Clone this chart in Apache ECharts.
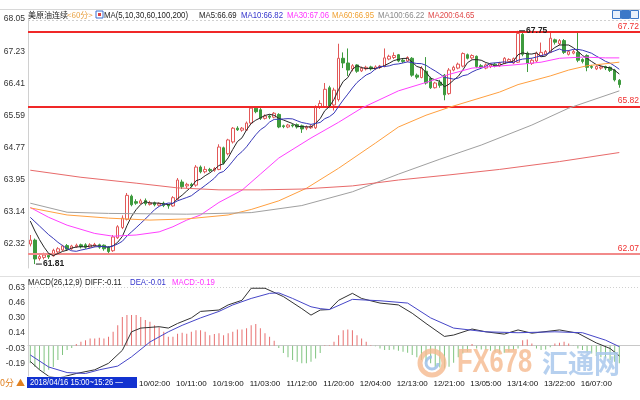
<!DOCTYPE html>
<html><head><meta charset="utf-8">
<script src="https://cdn.jsdelivr.net/npm/echarts@6/dist/echarts.min.js"></script>
<style>html,body{margin:0;padding:0;background:#fff;}#c{width:640px;height:400px;}</style>
</head><body><div id="c"></div>
<script>
// ---------- data ----------
const opens = [62.32,62.42,61.95,61.98,62.03,62.02,62.12,62.17,62.28,62.20,
 62.25,62.30,62.30,62.24,62.27,62.30,62.29,62.24,62.15,62.48,
 62.74,62.95,63.54,63.40,63.36,63.43,63.33,63.37,63.31,63.36,
 63.32,63.29,63.46,63.90,63.80,63.84,63.82,64.28,64.16,64.22,
 64.20,64.22,64.77,64.62,64.92,65.27,65.22,65.22,65.40,65.78,
 65.74,65.52,65.58,65.55,65.62,65.33,65.30,65.35,65.36,65.33,
 65.27,65.28,65.28,65.80,65.82,66.30,65.86,66.00,67.05,66.93,
 66.78,66.88,66.73,66.78,66.83,66.78,66.82,66.84,67.03,67.07,
 67.14,67.00,66.98,67.05,66.62,66.56,66.72,66.54,66.30,66.44,
 66.62,66.15,66.75,66.80,66.85,67.14,67.06,67.10,66.86,66.80,
 66.84,66.90,66.86,66.92,66.97,66.93,66.95,67.66,67.18,66.92,
 66.98,67.12,67.15,67.20,67.52,67.42,67.50,67.15,67.18,67.20,
 67.02,67.12,66.84,66.78,66.80,66.84,66.82,66.75,66.49];
const closes = [62.42,61.94,62.00,62.04,61.99,62.16,62.20,62.27,62.19,62.27,
 62.29,62.25,62.24,62.30,62.31,62.24,62.20,62.13,62.50,62.76,
 62.98,63.56,63.32,63.36,63.42,63.35,63.37,63.32,63.35,63.30,
 63.29,63.50,63.95,63.78,63.84,63.80,64.28,64.16,64.22,64.19,
 64.24,64.79,64.38,64.97,65.27,65.23,65.27,65.40,65.78,65.69,
 65.52,65.58,65.55,65.65,65.30,65.31,65.35,65.33,65.30,65.25,
 65.30,65.32,65.80,65.90,66.26,65.82,66.24,67.05,66.93,66.75,
 66.86,66.72,66.80,66.82,66.78,66.83,66.85,67.06,67.10,67.12,
 66.98,66.97,67.07,66.62,66.57,66.80,66.42,66.30,66.42,66.36,
 66.12,66.75,66.82,66.90,67.17,67.05,67.12,66.84,66.82,66.88,
 66.88,66.86,66.92,67.05,67.02,67.04,67.68,67.15,66.92,67.00,
 67.18,67.20,67.22,67.56,67.46,67.50,67.20,67.22,67.22,67.00,
 66.97,66.82,66.82,66.84,66.83,66.80,66.74,66.50,66.38];
const lows = [62.26,61.81,61.90,61.93,61.94,62.00,62.08,62.14,62.15,62.17,
 62.22,62.21,62.20,62.22,62.24,62.20,62.15,62.08,62.12,62.45,
 62.70,62.92,63.28,63.32,63.33,63.30,63.30,63.28,63.28,63.26,
 63.22,63.27,63.44,63.72,63.74,63.76,63.78,64.12,64.12,64.15,
 64.16,64.20,64.34,64.58,64.88,65.20,65.18,65.20,65.37,65.65,
 65.48,65.49,65.50,65.52,65.27,65.27,65.27,65.29,65.26,65.15,
 65.22,65.25,65.25,65.76,65.80,65.78,65.72,65.95,66.80,66.60,
 66.72,66.68,66.70,66.74,66.74,66.75,66.78,66.82,67.00,67.03,
 66.95,66.93,66.95,66.58,66.52,66.54,66.38,66.27,66.28,66.30,
 65.98,66.12,66.72,66.77,66.82,67.02,67.02,66.80,66.78,66.77,
 66.80,66.82,66.83,66.90,66.93,66.90,66.93,67.10,66.70,66.88,
 66.95,67.08,67.12,67.18,67.40,67.38,67.16,67.12,67.15,66.95,
 66.92,66.72,66.78,66.75,66.76,66.75,66.70,66.46,66.30];
const highs = [62.55,62.46,62.06,62.10,62.08,62.20,62.24,62.30,62.32,62.30,
 62.33,62.33,62.34,62.34,62.35,62.33,62.31,62.27,62.55,62.80,
 63.05,63.62,63.58,63.46,63.47,63.48,63.42,63.40,63.38,63.40,
 63.34,63.54,64.00,63.96,63.88,63.88,64.33,64.32,64.30,64.26,
 64.28,64.86,64.80,65.00,65.30,65.32,65.30,65.44,65.82,65.83,
 65.78,65.62,65.62,65.68,65.65,65.36,65.38,65.38,65.39,65.36,
 65.34,65.36,65.85,65.98,66.42,66.35,66.30,67.42,67.20,67.30,
 66.90,66.90,66.84,66.86,66.86,66.87,66.88,67.30,67.14,67.20,
 67.16,67.04,67.10,67.08,66.66,66.85,67.08,66.58,66.45,66.50,
 66.65,66.80,66.86,66.94,67.20,67.17,67.15,67.12,66.90,66.92,
 66.92,66.93,66.96,67.08,67.05,67.07,67.75,67.70,67.22,67.05,
 67.22,67.45,67.26,67.72,67.55,67.54,67.54,67.26,67.26,67.72,
 67.05,67.15,66.88,66.87,66.86,66.86,66.84,66.78,66.52];
// closes before the first visible bar (needed for MA5 / MA10 warm-up)
const priorCloses = [63.05,63.10,63.15,63.10,63.08,63.20,63.10,63.00,62.80];

// longer moving averages as [barIndex, value]
const ma30Pts = [[0,63.25],[4,63.0],[8,62.8],[14,62.59],[18,62.52],[23,62.55],[28,62.63],[31,62.76],[34,62.93],[37,63.06],[41,63.38],[46,63.69],[50,64.1],[54,64.51],[61,65.02],[67,65.42],[72,65.78],[80,66.22],[87,66.47],[91,66.64],[96,66.8],[105,66.88],[111,66.95],[115,67.05],[120,67.08],[125,67.06],[128,67.06]];
const ma60Pts = [[0,63.24],[8,63.06],[17,62.98],[26,62.93],[34,62.96],[43,63.06],[48,63.2],[54,63.42],[60,63.74],[67,64.25],[75,64.89],[80,65.3],[86,65.6],[91,65.8],[102,66.19],[106,66.38],[113,66.6],[117,66.75],[121,66.86],[128,66.95]];
const ma100Pts = [[0,63.36],[8,63.13],[17,63.1],[34,63.08],[48,63.12],[59,63.3],[70,63.65],[80,64.1],[89,64.48],[98,64.84],[109,65.35],[117,65.78],[128,66.22]];
const ma200Pts = [[0,64.2],[11,64.02],[23,63.87],[32,63.75],[41,63.7],[50,63.7],[59,63.72],[70,63.8],[80,63.95],[91,64.08],[102,64.22],[115,64.42],[128,64.65]];

// MACD panel
const macdHist = [-0.19,-0.23,-0.26,-0.28,-0.26,-0.23,-0.155,-0.10,-0.047,-0.026,
 0.017,0.042,0.06,0.079,0.079,0.085,0.079,0.096,0.15,0.22,
 0.31,0.33,0.33,0.33,0.31,0.276,0.258,0.22,0.20,0.15,
 0.096,0.096,0.13,0.14,0.13,0.15,0.168,0.168,0.15,0.114,
 0.125,0.133,0.114,0.133,0.15,0.176,0.176,0.187,0.222,0.233,
 0.187,0.133,0.096,0.053,-0.026,-0.08,-0.126,-0.155,-0.174,-0.19,
 -0.19,-0.174,-0.137,-0.08,0.004,0.006,0.042,0.114,0.168,0.176,
 0.168,0.114,0.079,0.042,0.006,-0.005,-0.03,-0.047,-0.047,-0.04,
 -0.055,-0.066,-0.077,-0.10,-0.126,-0.155,-0.174,-0.19,-0.228,-0.234,
 -0.245,-0.228,-0.184,-0.126,-0.083,-0.066,0.017,-0.03,-0.04,-0.047,
 -0.055,-0.066,-0.077,-0.077,-0.066,-0.047,-0.03,0.06,0.068,0.025,
 -0.03,-0.047,-0.04,-0.018,0.025,0.031,0.042,0.025,-0.004,-0.03,
 -0.047,-0.066,-0.083,-0.112,-0.126,-0.137,-0.155,-0.174,-0.19];
const diffPts = [[0,-0.17],[2,-0.26],[4,-0.33],[6,-0.35],[10,-0.30],[14,-0.26],[17,-0.19],[20,-0.05],[22,0.15],[24,0.19],[28,0.205],[30,0.19],[32,0.24],[35,0.30],[37,0.37],[41,0.385],[43,0.44],[46,0.49],[48,0.62],[51,0.62],[55,0.53],[59,0.40],[61,0.33],[63,0.385],[65,0.39],[67,0.49],[70,0.565],[72,0.51],[76,0.46],[80,0.44],[83,0.35],[86,0.24],[90,0.10],[92,0.115],[96,0.18],[99,0.15],[103,0.125],[106,0.17],[109,0.135],[115,0.17],[119,0.135],[123,0.03],[126,-0.03],[128,-0.11]];
const deaPts = [[0,-0.10],[4,-0.23],[8,-0.29],[12,-0.30],[15,-0.26],[19,-0.22],[22,-0.12],[26,0.04],[30,0.15],[33,0.22],[37,0.30],[41,0.37],[44,0.44],[48,0.51],[52,0.565],[54,0.57],[57,0.51],[61,0.42],[63,0.40],[65,0.39],[70,0.50],[76,0.485],[82,0.46],[87,0.30],[92,0.19],[99,0.15],[106,0.14],[114,0.15],[120,0.14],[125,0.06],[128,-0.01]];

// axes / labels
const tickLabels = ['10/02:00','10/11:00','10/19:00','11/03:00','11/12:00','11/20:00','12/04:00','12/13:00','12/21:00','13/05:00','13/14:00','13/22:00','16/07:00'];
const firstTickIndex = 27, tickStep = 8, totalSlots = 133;
const priceTicks = [62.32, 63.14, 63.95, 64.77, 65.59, 66.41, 67.23, 68.05];
const macdTicks = [-0.19, -0.03, 0.14, 0.30, 0.46, 0.63];
const levelLines = [67.72, 65.82, 62.07];
const lowMark = {index: 1, value: 61.81};
const highMark = {index: 106, value: 67.75};

// ---------- build ----------
const cats = [];
const tickSet = {};
for (let i = 0; i < totalSlots; i++) {
  const k = (i - firstTickIndex) / tickStep;
  if (i >= firstTickIndex && Number.isInteger(k) && k < tickLabels.length) { cats.push(tickLabels[k]); tickSet[i] = true; }
  else cats.push('s' + i);
}
const candles = opens.map((o, i) => [o, closes[i], lows[i], highs[i]]);
function movingAvg(n) {
  const all = priorCloses.concat(closes);
  const off = priorCloses.length;
  return closes.map((_, i) => {
    const j = i + off; if (j - n + 1 < 0) return null;
    let s = 0; for (let k = j - n + 1; k <= j; k++) s += all[k];
    return +(s / n).toFixed(3);
  });
}
const FONT = '"Liberation Sans",Arial,sans-serif';
const CJK = '"Noto Sans CJK SC","Noto Sans",sans-serif';
function T(x, y, text, fill, size, fam, opts) {
  opts = opts || {};
  return {type: 'text', x: x, y: y, silent: true, z: 50, scaleX: opts.sx || 0.82,
    style: {text: text, fill: fill, opacity: opts.op == null ? 1 : opts.op,
      font: (opts.bold ? 'bold ' : '') + (size || 9) + 'px ' + (fam || FONT), verticalAlign: 'middle'}};
}
function line(mark, color, smooth, xi, yi) {
  return {type: 'line', data: mark, xAxisIndex: xi || 0, yAxisIndex: yi || 0, symbol: 'none', silent: true,
    smooth: smooth, connectNulls: true, lineStyle: {color: color, width: 1}, z: 5};
}

const chart = echarts.init(document.getElementById('c'), null, {renderer: 'canvas'});
const option = {
  animation: false,
  backgroundColor: '#ffffff',
  grid: [
    {left: 28, right: 0, top: 19, height: 249},
    {left: 28, right: 0, top: 280, height: 96}
  ],
  xAxis: [
    {type: 'category', gridIndex: 0, data: cats, axisLine: {show: false}, axisTick: {show: false}, axisLabel: {show: false}, splitLine: {show: false}},
    {type: 'category', gridIndex: 1, data: cats, axisLine: {show: true, lineStyle: {color: '#c8c8c8'}}, axisTick: {show: false},
      axisLabel: {interval: (i) => !!tickSet[i], fontSize: 8, color: '#111', margin: 4, fontFamily: FONT}, splitLine: {show: false}}
  ],
  yAxis: [
    {type: 'value', gridIndex: 0, min: 61.71, max: 68.05, axisLine: {show: true, lineStyle: {color: '#d0d0d0'}}, axisTick: {show: false}, splitLine: {show: false},
      axisLabel: {customValues: priceTicks, formatter: (v) => v.toFixed(2), fontSize: 8.5, color: '#333', margin: 3, fontFamily: FONT}},
    {type: 'value', gridIndex: 1, min: -0.327, max: 0.709, axisLine: {show: true, lineStyle: {color: '#d0d0d0'}}, axisTick: {show: false}, splitLine: {show: false},
      axisLabel: {customValues: macdTicks, formatter: (v) => v.toFixed(2), fontSize: 8.5, color: '#333', margin: 3, fontFamily: FONT}}
  ],
  series: [
    {type: 'candlestick', data: candles, barWidth: 3, silent: true, z: 2,
      itemStyle: {color: '#ffffff', color0: '#3d9a3d', borderColor: '#e25858', borderColor0: '#3d9a3d', borderWidth: 1},
      markLine: {silent: true, symbol: ['none', 'none'], animation: false,
        label: {position: 'insideEndTop', distance: 1, fontSize: 8.5, color: '#f03030', fontFamily: FONT, formatter: (p) => Number(p.value).toFixed(2)},
        data: levelLines.map((v, i) => ({yAxis: v, lineStyle: {color: i === 2 ? '#f28a8a' : '#f02828', width: 2, type: 'solid'}}))},
      markPoint: {silent: true, animation: false,
        data: [lowMark, highMark].map(m => ({coord: [m.index, m.value], value: m.value})),
        symbol: 'rect', symbolSize: [6, 1], symbolOffset: [4, 0], itemStyle: {color: '#222'},
        label: {show: true, position: 'right', distance: 1, color: '#222', fontSize: 8.5, fontWeight: 'bold', fontFamily: FONT, formatter: (p) => p.value.toFixed(2)}}
    },
    line(movingAvg(5), '#262626', false),
    line(movingAvg(10), '#3838b8', false),
    line(ma30Pts, '#ff40ff', false),
    line(ma60Pts, '#ffa040', false),
    line(ma100Pts, '#a0a0a0', false),
    line(ma200Pts, '#e86a6a', false),
    {type: 'bar', xAxisIndex: 1, yAxisIndex: 1, data: macdHist, barWidth: 1, silent: true,
      itemStyle: {color: (p) => p.value >= 0 ? '#e87070' : '#80c480'}},
    line(diffPts, '#333333', false, 1, 1),
    line(deaPts, '#4646c8', false, 1, 1)
  ],
  graphic: [
    {type: 'line', silent: true, shape: {x1: 0, y1: 9.5, x2: 640, y2: 9.5}, style: {stroke: '#d8d8d8', lineWidth: 1}},
    {type: 'line', silent: true, shape: {x1: 28, y1: 20.5, x2: 640, y2: 20.5}, style: {stroke: '#d0d0d0', lineWidth: 1, lineDash: [2, 2]}},
    T(28, 15, '美原油连续', '#222', 8, CJK, {sx: 1}),
    T(67, 15, '<60分>', '#e8a040', 8, CJK, {sx: 1}),
    {type: 'rect', silent: true, shape: {x: 96, y: 11, width: 7, height: 7}, style: {fill: '#fff', stroke: '#3a6fd0', lineWidth: 1}},
    {type: 'rect', silent: true, shape: {x: 98, y: 13, width: 3, height: 3}, style: {fill: '#e04040'}},
    T(104, 15, 'MA(5,10,30,60,100,200)', '#222', 9.5),
    T(199, 15, 'MA5:66.69', '#222', 9.5),
    T(241, 15, 'MA10:66.82', '#3333cc', 9.5),
    T(287, 15, 'MA30:67.06', '#ff33ff', 9.5),
    T(332, 15, 'MA60:66.95', '#f0a030', 9.5),
    T(378, 15, 'MA100:66.22', '#888888', 9.5),
    T(428, 15, 'MA200:64.65', '#e04848', 9.5),
    {type: 'rect', silent: true, shape: {x: 612.5, y: 10.5, width: 8, height: 8}, style: {fill: '#e8f0fb', stroke: '#3c78c8'}},
    {type: 'rect', silent: true, shape: {x: 621.5, y: 10.5, width: 8, height: 8}, style: {fill: '#3c78c8', stroke: '#3c78c8'}},
    {type: 'rect', silent: true, shape: {x: 630.5, y: 10.5, width: 8, height: 8}, style: {fill: '#e8f0fb', stroke: '#3c78c8'}},
    {type: 'line', silent: true, shape: {x1: 0, y1: 276.5, x2: 640, y2: 276.5}, style: {stroke: '#e0e0e0', lineWidth: 1}},
    {type: 'line', silent: true, shape: {x1: 28, y1: 287.5, x2: 640, y2: 287.5}, style: {stroke: '#d0d0d0', lineWidth: 1, lineDash: [1, 2]}},
    T(28, 282, 'MACD(26,12,9)', '#222', 9.5),
    T(85, 282, 'DIFF:-0.11', '#222', 9.5),
    T(130, 282, 'DEA:-0.01', '#3333cc', 9.5),
    T(172, 282, 'MACD:-0.19', '#ff33ff', 9.5),
    T(0, 383, '0分 ▲', '#e08020', 9, CJK, {sx: 1}),
    {type: 'rect', silent: true, z: 49, shape: {x: 27, y: 377, width: 110, height: 11}, style: {fill: '#1232d0'}},
    T(30, 382.5, '2018/04/16 15:00~15:26 —', '#ffffff', 9, FONT, {sx: 0.85}),
    {type: 'circle', silent: true, z: 60, shape: {cx: 432, cy: 363, r: 12}, style: {fill: 'none', stroke: '#f5b98e', lineWidth: 5, opacity: 0.8}},
    {type: 'arc', silent: true, z: 60, shape: {cx: 432, cy: 363, r: 6, startAngle: 0, endAngle: Math.PI * 1.5}, style: {fill: 'none', stroke: '#9cbfe8', lineWidth: 3, opacity: 0.85}},
    T(457, 363, 'FX678', '#f5b98e', 34, FONT, {bold: true, sx: 0.75, op: 0.8}),
    T(542, 363, '汇通网', '#a9c8ec', 26, CJK, {bold: true, sx: 1, op: 0.85})
  ]
};
chart.setOption(option);
</script>
</body></html>
